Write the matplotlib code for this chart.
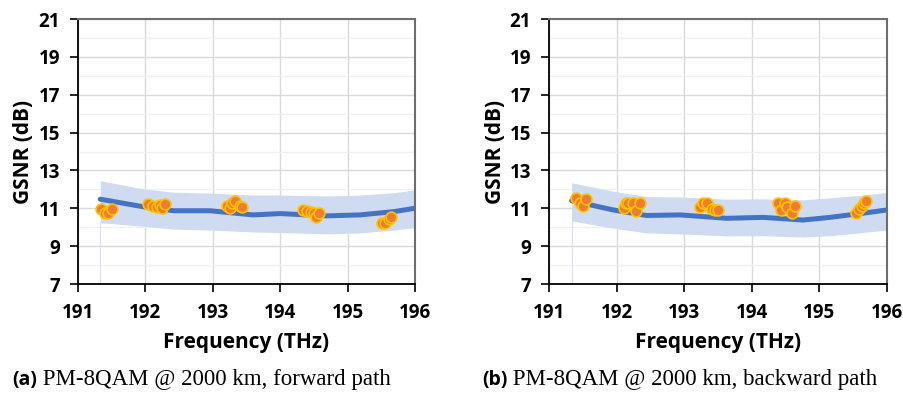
import matplotlib
matplotlib.use("Agg")
import matplotlib.pyplot as plt
import numpy as np

# ---- data ----
fwd_line_f = [191.33, 191.97, 192.42, 192.96, 193.60, 194.00, 194.69, 195.18, 195.68, 196.00]
fwd_line_g = [11.48, 11.08, 10.87, 10.87, 10.65, 10.72, 10.60, 10.65, 10.82, 11.00]
fwd_upper = [12.46, 12.02, 11.85, 11.80, 11.70, 11.70, 11.65, 11.70, 11.82, 11.97]
fwd_lower = [10.24, 10.05, 9.90, 9.85, 9.75, 9.72, 9.65, 9.70, 9.85, 9.98]
fwd_pts_f = [191.34, 191.40, 191.45, 191.50,
             192.04, 192.11, 192.17, 192.22, 192.24, 192.29,
             193.21, 193.25, 193.28, 193.33, 193.40, 193.44,
             194.34, 194.40, 194.45, 194.50, 194.53, 194.58,
             195.51, 195.56, 195.61, 195.65]
fwd_pts_g = [10.95, 10.74, 10.77, 10.96,
             11.21, 11.14, 11.09, 11.17, 11.00, 11.21,
             11.12, 11.00, 11.30, 11.40, 11.12, 11.05,
             10.91, 10.87, 10.82, 10.74, 10.56, 10.74,
             10.24, 10.21, 10.42, 10.52]

bwd_line_f = [191.33, 191.95, 192.44, 192.94, 193.63, 194.17, 194.76, 195.16, 195.65, 196.00]
bwd_line_g = [11.40, 10.91, 10.62, 10.65, 10.47, 10.52, 10.38, 10.52, 10.74, 10.91]
bwd_upper = [12.35, 11.90, 11.62, 11.60, 11.48, 11.50, 11.45, 11.55, 11.70, 11.83]
bwd_lower = [10.33, 9.95, 9.70, 9.65, 9.54, 9.55, 9.48, 9.55, 9.72, 9.85]
bwd_pts_f = [191.40, 191.45, 191.50, 191.54,
             192.10, 192.14, 192.17, 192.24, 192.29, 192.34,
             193.24, 193.28, 193.34, 193.41, 193.45, 193.50,
             194.39, 194.44, 194.49, 194.52, 194.59, 194.64,
             195.54, 195.59, 195.63, 195.66, 195.70]
bwd_pts_g = [11.53, 11.27, 11.12, 11.49,
             11.03, 11.30, 11.26, 11.26, 10.87, 11.26,
             11.05, 11.30, 11.26, 10.95, 10.91, 10.91,
             11.26, 10.91, 11.26, 11.05, 10.77, 11.12,
             10.77, 10.95, 11.12, 11.26, 11.40]

x_ticks = [191, 192, 193, 194, 195, 196]
y_ticks = [7, 9, 11, 13, 15, 17, 19, 21]
captions = [("(a)", " PM-8QAM @ 2000 km, forward path"),
            ("(b)", " PM-8QAM @ 2000 km, backward path")]

fig = plt.figure(figsize=(9.04, 3.94), dpi=100)
W, H = 904, 394

def make_ax(x0px, x1px):
    return fig.add_axes([x0px / W, 1 - 284 / H, (x1px - x0px) / W, (284 - 19) / H])

sans = ["Open Sans", "DejaVu Sans"]
panels = [
    (make_ax(78, 415), fwd_line_f, fwd_line_g, fwd_upper, fwd_lower, fwd_pts_f, fwd_pts_g),
    (make_ax(549.3, 886.7), bwd_line_f, bwd_line_g, bwd_upper, bwd_lower, bwd_pts_f, bwd_pts_g),
]

for i, (ax, lf, lg, up, lo, pf, pg) in enumerate(panels):
    ax.set_xlim(191, 196)
    ax.set_ylim(7, 21)
    ax.set_xticks(x_ticks)
    ax.set_yticks(y_ticks)
    ax.set_yticks(np.arange(8, 21, 2), minor=True)
    ax.grid(True, which="major", color="#D9D9D9", linewidth=1.0, zorder=0)
    ax.grid(True, which="minor", axis="y", color="#F0F0F0", linewidth=1.0, zorder=0)
    ax.tick_params(which="minor", length=0)
    ax.tick_params(which="major", direction="out", length=6, width=1.2, color="black")
    ax.tick_params(axis="y", pad=7)
    ax.tick_params(axis="x", pad=8)
    for lab in ax.get_xticklabels() + ax.get_yticklabels():
        lab.set_fontfamily(sans)
        lab.set_fontweight("bold")
        lab.set_fontsize(13.5)
    for s in ("left", "bottom"):
        ax.spines[s].set_color("black")
        ax.spines[s].set_linewidth(1.3)
    for s in ("top", "right"):
        ax.spines[s].set_color("#6E6E6E")
        ax.spines[s].set_linewidth(1.5)
    ax.set_axisbelow(True)

    ax.plot([lf[0], lf[0]], [7, lo[0]], color="#D6E0F3", linewidth=0.8, zorder=1)
    ax.fill_between(lf, lo, up, color="#CFDBF0", linewidth=0, zorder=1)
    ax.plot(lf, lg, color="#4472C4", linewidth=3.6, solid_capstyle="round", zorder=2)
    ax.scatter(pf, pg, s=60, facecolor="#ED7D31", edgecolor="#FFC000", linewidth=1.2, zorder=3)

    ax.set_xlabel("Frequency (THz)", fontfamily=sans, fontweight="bold", fontsize=15, labelpad=6)
    ax.set_ylabel("GSNR (dB)", fontfamily=sans, fontweight="bold", fontsize=15, labelpad=3)

cap_x = [12 / W, 482 / W]
for (lab, txt), cx in zip(captions, cap_x):
    t = fig.text(cx, 1 - 385 / H, lab, fontfamily=sans, fontweight="bold", fontsize=14, va="baseline")
    fig.canvas.draw()
    bb = t.get_window_extent()
    fig.text(bb.x1 / W, 1 - 385 / H, txt, fontfamily=["Liberation Serif", "DejaVu Serif"],
             fontsize=16.5, va="baseline")

fig.savefig("out.png", dpi=100, facecolor="white")
